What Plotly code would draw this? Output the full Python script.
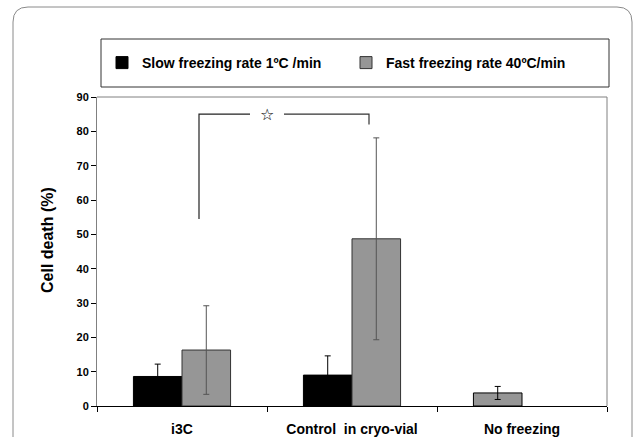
import plotly.graph_objects as go

categories = ["i3C", "Control  in cryo-vial", "No freezing"]
slow_values = [8.6, 9.0, 3.8]
slow_errors = [3.6, 5.6, 1.9]
slow_colors = ["#000000", "#000000", "#969696"]
fast_values = [16.3, 48.7, None]
fast_errors = [12.9, 29.4, None]
series_names = ["Slow freezing rate 1ºC /min", "Fast freezing rate 40ºC/min"]
y_ticks = list(range(0, 91, 10))
y_title = "Cell death (%)"
bracket_y = [54.5, 85, 82]  # left leg bottom, top, right leg bottom

W, H = 634, 437
L, R, T, B = 97, 27, 97, 31
pw, ph = W - L - R, H - T - B

def px(x):
    return (x - L) / pw

def py(y):
    return (H - B - y) / ph

font_family = "Liberation Sans, Arial, sans-serif"

fig = go.Figure()
fig.add_trace(go.Bar(
    x=categories, y=slow_values, name=series_names[0],
    marker=dict(color=slow_colors, line=dict(color="#000000", width=1)),
    error_y=dict(type="data", array=slow_errors, visible=True,
                 color="#000000", thickness=1, width=3),
))
fig.add_trace(go.Bar(
    x=categories, y=fast_values, name=series_names[1],
    marker=dict(color="#969696", line=dict(color="#333333", width=1)),
    error_y=dict(type="data", array=fast_errors, visible=True,
                 color="#555555", thickness=1, width=3),
))

shapes = []
# outer rounded frame
x0, x1 = px(13), px(632)
y0, y1 = py(445), py(7)
rx, ry = 15 / pw, 15 / ph
shapes.append(dict(
    type="path", xref="paper", yref="paper",
    path=(f"M {x0},{y0} L {x0},{y1-ry} Q {x0},{y1} {x0+rx},{y1} "
          f"L {x1-rx},{y1} Q {x1},{y1} {x1},{y1-ry} L {x1},{y0}"),
    line=dict(color="#8a8a8a", width=1),
))
# legend box
shapes.append(dict(type="rect", xref="paper", yref="paper",
                   x0=px(101), x1=px(609), y0=py(87), y1=py(39),
                   line=dict(color="#333333", width=1)))
# plot area border (top & right)
shapes.append(dict(type="path", xref="paper", yref="paper",
                   path="M 0,1 L 1,1 L 1,0",
                   line=dict(color="#808080", width=1)))
# significance bracket
lx, rxb = 0.1, 1.1
gap_l, gap_r = 0.4, 0.6
shapes.append(dict(type="path", xref="x", yref="y",
                   path=f"M {lx},{bracket_y[0]} L {lx},{bracket_y[1]} L {gap_l},{bracket_y[1]}",
                   line=dict(color="#222222", width=1.2)))
shapes.append(dict(type="path", xref="x", yref="y",
                   path=f"M {gap_r},{bracket_y[1]} L {rxb},{bracket_y[1]} L {rxb},{bracket_y[2]}",
                   line=dict(color="#333333", width=1.2)))

annotations = [
    dict(x=0.5, y=bracket_y[1], xref="x", yref="y", text="☆",
         showarrow=False, font=dict(size=16, color="#000000", family="DejaVu Sans")),
    dict(x=px(47), y=py(240), xref="paper", yref="paper", text=y_title,
         textangle=-90, showarrow=False, xanchor="center", yanchor="middle",
         font=dict(size=16, family=font_family, color="#000000", weight="bold")),
]

fig.update_layout(
    width=W, height=H,
    margin=dict(l=L, r=R, t=T, b=B, autoexpand=False),
    paper_bgcolor="white", plot_bgcolor="white",
    barmode="group", bargap=1.5 / 3.5, bargroupgap=0,
    font=dict(family=font_family, color="#000000"),
    showlegend=True,
    legend=dict(orientation="h", x=px(102), xanchor="left", y=py(63), yanchor="middle",
                font=dict(size=14, family=font_family, color="#000000", weight="bold"),
                bgcolor="rgba(0,0,0,0)", entrywidth=199, entrywidthmode="pixels",
                traceorder="normal"),
    shapes=shapes,
    annotations=annotations,
    xaxis=dict(
        type="category", range=[-0.5, 2.5], showgrid=False,
        showline=True, linecolor="#000000", linewidth=1,
        ticks="outside", tickson="boundaries", ticklen=5, tickcolor="#000000",
        tickfont=dict(size=14, family=font_family, color="#000000", weight="bold"),
        ticklabelstandoff=10,
    ),
    yaxis=dict(
        range=[0, 90], tickvals=y_ticks, showgrid=False, zeroline=False,
        showline=True, linecolor="#808080", linewidth=1,
        ticks="outside", ticklen=5, tickcolor="#000000",
        tickfont=dict(size=11, family=font_family, color="#000000", weight="bold"),
    ),
)

fig.write_html("out.html", config={"displayModeBar": False},
               post_script="document.body.style.margin='0';")
